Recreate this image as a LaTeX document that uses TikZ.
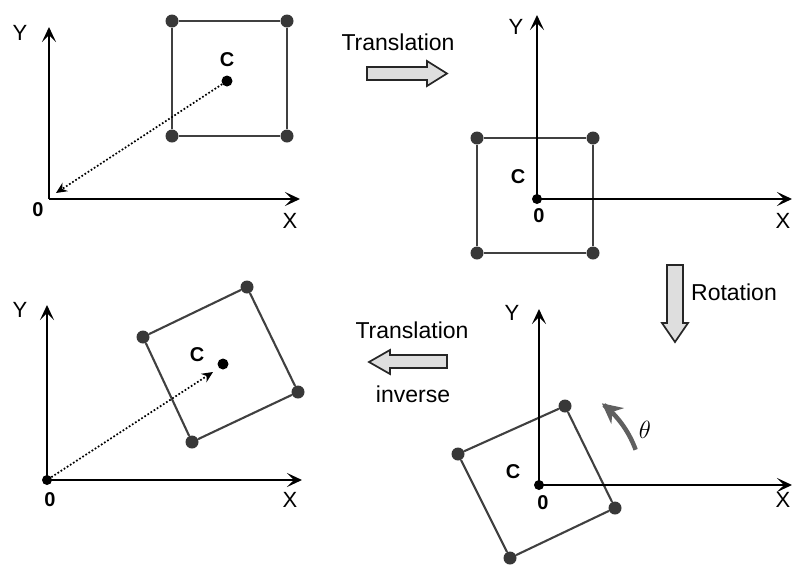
\documentclass[tikz,border=0pt]{standalone}
\usepackage{fontspec}
\setmainfont{Liberation Sans}
\usetikzlibrary{arrows.meta}
\definecolor{sqgray}{HTML}{404040}
\definecolor{dotgray}{HTML}{383838}
\definecolor{arrowgray}{HTML}{DEDEDE}
\definecolor{thetagray}{HTML}{606060}
\begin{document}
\begin{tikzpicture}[x=1pt,y=-1pt,
  axis/.style={line width=2.8pt,-{Stealth[length=15pt,width=14pt,inset=7pt]}},
  edge/.style={line width=2.1pt,draw=sqgray},
  corner/.style={circle,fill=dotgray,inner sep=0pt,minimum size=13pt},
  cdot/.style={circle,fill=black,inner sep=0pt,minimum size=11pt},
  odot/.style={circle,fill=black,inner sep=0pt,minimum size=10pt},
  dotarrow/.style={line width=1.7pt,dotted,-{Stealth[length=11pt,width=10pt]}},
  axlabel/.style={font=\fontsize{22}{26}\selectfont},
  numlabel/.style={font=\fontsize{20}{24}\selectfont\bfseries},
  steplabel/.style={font=\fontsize{23}{27}\selectfont},
  blockarrow/.style={draw=black!85,fill=arrowgray,line width=1.7pt,line join=miter},
]
\useasboundingbox (0,0) rectangle (793,566);

% ---------- Panel 1 ----------
\coordinate (o1) at (49,199);
\coordinate (y1) at (49,27);
\coordinate (x1) at (300,199);
\node[corner] (p1a) at (172,21) {};
\node[corner] (p1b) at (287,21) {};
\node[corner] (p1c) at (287,136) {};
\node[corner] (p1d) at (172,136) {};
\draw[edge] (p1a) -- (p1b) -- (p1c) -- (p1d) -- (p1a);
\node[cdot] (c1) at (227,81) {};
\node[numlabel] (c1l) at (227,60) {C};
\coordinate (e1) at (56,193);
\draw[dotarrow] (c1) -- (e1);
\draw[axis] (o1) -- (y1);
\draw[axis] (o1) -- (x1);
\node[axlabel] (y1l) at (20,33) {Y};
\node[axlabel] (x1l) at (290,221) {X};
\node[numlabel] (z1l) at (38,210) {0};

% ---------- Translation arrow ----------
\node[steplabel] (tr1) at (398,42) {Translation};
\draw[blockarrow] (367,67) -- (427,67) -- (427,61) -- (447,73.5) -- (427,86) -- (427,80) -- (367,80) -- cycle;

% ---------- Panel 2 ----------
\node[corner] (p2a) at (477,138) {};
\node[corner] (p2b) at (593,138) {};
\node[corner] (p2c) at (593,253) {};
\node[corner] (p2d) at (477,253) {};
\draw[edge] (p2a) -- (p2b) -- (p2c) -- (p2d) -- (p2a);
\coordinate (o2) at (537,199);
\coordinate (y2) at (537,15);
\coordinate (x2) at (792,199);
\draw[axis] (o2) -- (y2);
\draw[axis] (o2) -- (x2);
\node[odot] (d2) at (o2) {};
\node[axlabel] (y2l) at (516,27) {Y};
\node[axlabel] (x2l) at (783,221) {X};
\node[numlabel] (z2l) at (539,216) {0};
\node[numlabel] (c2l) at (518,177) {C};

% ---------- Rotation arrow ----------
\draw[blockarrow] (667,265) -- (683,265) -- (683,323) -- (688,323) -- (675,342) -- (662,323) -- (667,323) -- cycle;
\node[steplabel] (rot) at (734,292) {Rotation};

% ---------- Panel 3 ----------
\node[corner] (p3a) at (565,406) {};
\node[corner] (p3b) at (615,508) {};
\node[corner] (p3c) at (510,558) {};
\node[corner] (p3d) at (458,454) {};
\draw[edge] (p3a) -- (p3b) -- (p3c) -- (p3d) -- (p3a);
\coordinate (o3) at (539,485);
\coordinate (y3) at (539,309);
\coordinate (x3) at (792,485);
\draw[axis] (o3) -- (y3);
\draw[axis] (o3) -- (x3);
\node[odot] (d3) at (o3) {};
\node[axlabel] (y3l) at (512,313) {Y};
\node[axlabel] (x3l) at (783,500) {X};
\node[numlabel] (z3l) at (543,503) {0};
\node[numlabel] (c3l) at (513,472) {C};
\draw[line width=4.5pt,draw=thetagray,-{Stealth[length=20pt,width=20pt]}]
  plot[domain=20:52,samples=24] ({537.9+104*cos(\x)},{485.3-104*sin(\x)});
\node[font=\fontsize{35}{40}\selectfont] (th) at (645,430) {$\theta$};

% ---------- Translation inverse arrow ----------
\node[steplabel] (tr2) at (412,330) {Translation};
\draw[blockarrow] (447,355) -- (390,355) -- (390,350) -- (369,362) -- (390,374) -- (390,368) -- (447,368) -- cycle;
\node[steplabel] (inv) at (413,394) {inverse};

% ---------- Panel 4 ----------
\node[corner] (p4a) at (247,287) {};
\node[corner] (p4b) at (298,392) {};
\node[corner] (p4c) at (192,442) {};
\node[corner] (p4d) at (143,337) {};
\draw[edge] (p4a) -- (p4b) -- (p4c) -- (p4d) -- (p4a);
\coordinate (o4) at (47,480);
\coordinate (y4) at (47,305);
\coordinate (x4) at (302,480);
\draw[axis] (o4) -- (y4);
\draw[axis] (o4) -- (x4);
\node[odot] (d4) at (o4) {};
\node[cdot] (c4) at (223,364) {};
\node[numlabel] (c4l) at (197,355) {C};
\coordinate (e4) at (213,372);
\draw[dotarrow] (d4) -- (e4);
\node[axlabel] (y4l) at (20,310) {Y};
\node[axlabel] (x4l) at (290,500) {X};
\node[numlabel] (z4l) at (50,500) {0};
\end{tikzpicture}
\end{document}
